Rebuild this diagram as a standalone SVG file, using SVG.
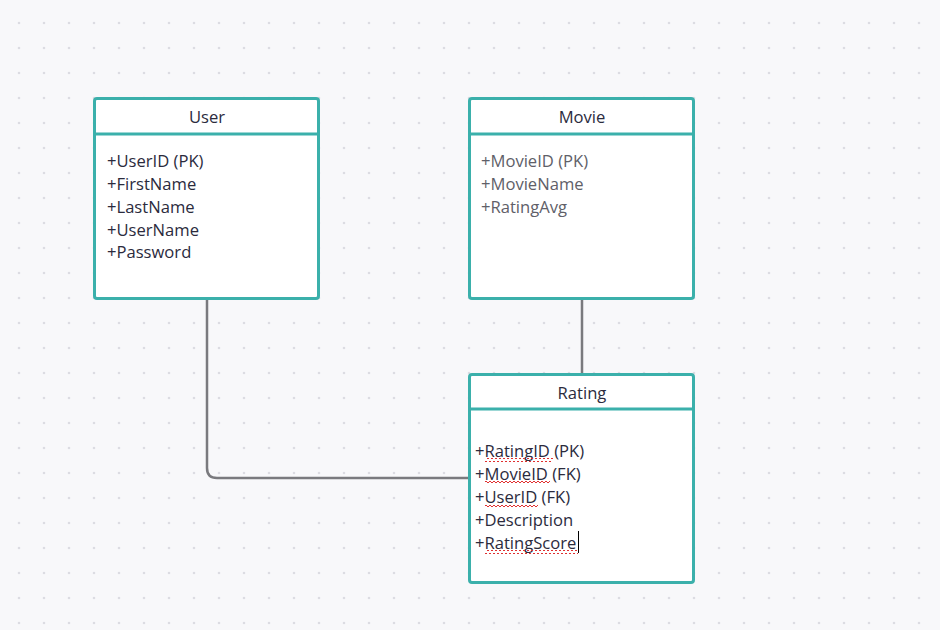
<svg xmlns="http://www.w3.org/2000/svg" width="940" height="630" viewBox="0 0 940 630">
<defs>
<pattern id="dots" x="0" y="0" width="25" height="25" patternUnits="userSpaceOnUse">
<circle cx="19" cy="23" r="1.3" fill="#dcdce2"/>
</pattern>
<pattern id="wave" x="0" y="0" width="4" height="4" patternUnits="userSpaceOnUse">
<path d="M-1,2 L0,3 L2,1 L4,3 L5,2" fill="none" stroke="#e03030" stroke-width="1"/>
</pattern>
</defs>
<style>
.box{fill:#ffffff;stroke:#3bb0ab;stroke-width:3}
.sep{stroke:#3bb0ab;stroke-width:3}
.title{font-family:"Open Sans","Noto Sans",sans-serif;font-size:16.6px;fill:#2b2b3d;text-anchor:middle}
.attr{font-family:"Open Sans","Noto Sans",sans-serif;font-size:16.6px;fill:#2b2b3d}
.attr.gray{fill:#606068}
.conn{fill:none;stroke:#7a7a7e;stroke-width:2.5}
</style>
<rect width="940" height="630" fill="#f8f8fa"/>
<rect width="940" height="630" fill="url(#dots)"/>
<g id="connectors">
<path class="conn" d="M207,299 L207,468 Q207,478 217,478 L469,478"/>
<path class="conn" d="M582,299 L582,374"/>
</g>
<g id="user">
<rect class="box" x="94.5" y="98.5" width="224" height="200" rx="2.5"/>
<line class="sep" x1="94.5" y1="134" x2="318.5" y2="134"/>
<text class="title" x="207" y="123">User</text>
<text class="attr" x="107" y="167">+UserID (PK)</text>
<text class="attr" x="107" y="190">+FirstName</text>
<text class="attr" x="107" y="213">+LastName</text>
<text class="attr" x="107" y="236">+UserName</text>
<text class="attr" x="107" y="258">+Password</text>
</g>
<g id="movie">
<rect class="box" x="469.5" y="98.5" width="224" height="200" rx="2.5"/>
<line class="sep" x1="469.5" y1="134" x2="693.5" y2="134"/>
<text class="title" x="582" y="123">Movie</text>
<text class="attr gray" x="481" y="167">+MovieID (PK)</text>
<text class="attr gray" x="481" y="190">+MovieName</text>
<text class="attr gray" x="481" y="213">+RatingAvg</text>
</g>
<g id="rating">
<rect class="box" x="469.5" y="374.5" width="224" height="208" rx="2.5"/>
<line class="sep" x1="469.5" y1="409" x2="693.5" y2="409"/>
<text class="title" x="582" y="399">Rating</text>
<text class="attr" x="475" y="457">+RatingID (PK)</text>
<text class="attr" x="475" y="480">+MovieID (FK)</text>
<text class="attr" x="475" y="503">+UserID (FK)</text>
<text class="attr" x="475" y="526">+Description</text>
<text class="attr" x="475" y="549">+RatingScore</text>
<rect x="485" y="458" width="68" height="4" fill="url(#wave)"/>
<rect x="485" y="481" width="65" height="4" fill="url(#wave)"/>
<rect x="485" y="504" width="53" height="4" fill="url(#wave)"/>
<rect x="485" y="550" width="93" height="4" fill="url(#wave)"/>
<line x1="578.5" y1="531" x2="578.5" y2="553" stroke="#000" stroke-width="1"/>
</g>
</svg>
